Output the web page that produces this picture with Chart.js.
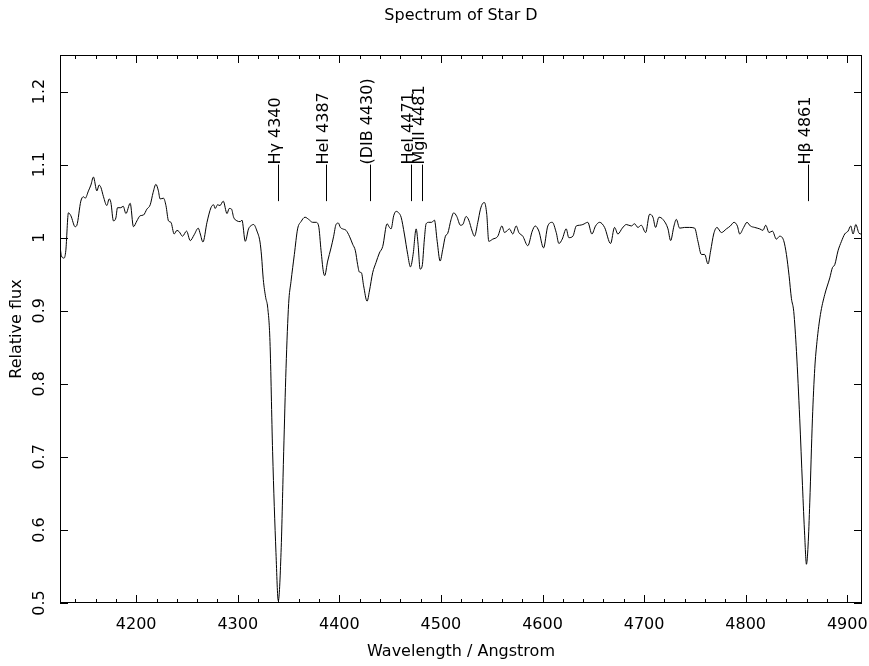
<!DOCTYPE html>
<html>
<head>
<meta charset="utf-8">
<script src="https://cdn.jsdelivr.net/npm/chart.js@4/dist/chart.umd.min.js"></script>
<style>
  html, body { margin: 0; padding: 0; background: #fff; }
  #wrap { width: 869px; height: 666px; }
</style>
</head>
<body>
<div id="wrap"><canvas id="spectrumChart" width="869" height="666"></canvas></div>
<script>
// wavelength (Angstrom) and relative flux
const wavelength = [
  4125.0, 4126.4, 4129.0, 4130.7, 4133.3, 4135.7, 4139.9, 4141.6, 4145.5, 4148.1,
  4149.8, 4153.0, 4155.4, 4157.9, 4161.3, 4163.5, 4165.2, 4167.8, 4171.1, 4173.4,
  4175.1, 4177.6, 4180.0, 4181.6, 4184.9, 4187.2, 4189.9, 4194.1, 4197.3, 4200.7,
  4203.9, 4207.2, 4210.5, 4213.8, 4216.7, 4219.4, 4221.7, 4223.6, 4226.9, 4229.3,
  4231.8, 4234.2, 4237.4, 4240.1, 4242.4, 4245.6, 4249.6, 4253.2, 4257.1, 4261.1,
  4263.1, 4265.7, 4269.7, 4273.6, 4276.2, 4277.8, 4280.1, 4282.5, 4285.7, 4289.4,
  4291.6, 4293.9, 4295.9, 4299.2, 4302.5, 4304.1, 4307.4, 4310.6, 4313.6, 4315.6,
  4318.9, 4321.9, 4323.4, 4325.1, 4327.5, 4329.4, 4331.7, 4334.3, 4337.6, 4339.9,
  4342.6, 4345.2, 4347.5, 4350.1, 4352.4, 4355.7, 4358.9, 4362.3, 4366.2, 4369.8,
  4373.7, 4377.0, 4379.6, 4382.0, 4384.2, 4385.5, 4388.5, 4391.8, 4394.4, 4396.7,
  4399.0, 4401.0, 4403.3, 4406.6, 4409.9, 4413.1, 4415.8, 4418.0, 4419.7, 4421.7,
  4423.9, 4427.3, 4429.6, 4432.8, 4436.1, 4439.4, 4442.7, 4447.0, 4449.3, 4450.9,
  4453.5, 4455.9, 4458.4, 4460.8, 4464.0, 4467.3, 4470.0, 4472.6, 4475.6, 4477.5,
  4479.5, 4481.5, 4483.7, 4485.4, 4488.0, 4490.9, 4493.6, 4496.3, 4499.2, 4501.8,
  4504.4, 4506.7, 4510.0, 4512.6, 4515.6, 4519.2, 4521.5, 4524.8, 4527.4, 4530.7,
  4533.0, 4536.3, 4538.9, 4541.2, 4542.9, 4545.1, 4547.1, 4551.0, 4556.0, 4560.0,
  4562.6, 4567.5, 4570.7, 4574.1, 4576.7, 4580.6, 4585.5, 4589.9, 4592.8, 4596.4,
  4601.0, 4605.2, 4609.6, 4613.5, 4616.1, 4619.4, 4623.3, 4625.9, 4629.9, 4633.2,
  4636.5, 4639.7, 4644.6, 4648.6, 4652.2, 4656.2, 4661.1, 4667.0, 4670.9, 4674.2,
  4678.5, 4682.5, 4687.4, 4690.6, 4693.9, 4697.2, 4701.5, 4705.4, 4708.7, 4711.3,
  4714.6, 4718.5, 4723.5, 4726.1, 4729.4, 4731.7, 4735.0, 4739.9, 4744.8, 4749.8,
  4753.0, 4756.4, 4759.6, 4762.9, 4765.5, 4768.5, 4771.7, 4776.1, 4781.0, 4784.9,
  4788.5, 4791.8, 4794.1, 4798.0, 4801.3, 4804.6, 4808.9, 4813.8, 4817.0, 4819.7,
  4823.0, 4826.3, 4830.2, 4833.5, 4837.4, 4840.1, 4842.7, 4845.0, 4847.3, 4850.0,
  4853.2, 4855.9, 4858.1, 4859.8, 4861.4, 4863.1, 4865.7, 4868.0, 4870.2, 4873.6,
  4877.8, 4882.8, 4885.4, 4887.7, 4890.9, 4894.3, 4897.5, 4900.8, 4903.4, 4905.7,
  4908.4, 4911.6, 4914.0
];
const flux = [
  0.989, 0.975, 0.972, 0.982, 1.034, 1.030, 1.015, 1.017, 1.050, 1.056,
  1.054, 1.064, 1.072, 1.083, 1.064, 1.072, 1.069, 1.056, 1.044, 1.053,
  1.048, 1.023, 1.027, 1.041, 1.041, 1.043, 1.033, 1.047, 1.015, 1.023,
  1.030, 1.031, 1.039, 1.045, 1.062, 1.073, 1.065, 1.053, 1.054, 1.044,
  1.023, 1.021, 1.005, 1.010, 1.008, 1.002, 1.009, 0.996, 1.004, 1.013,
  1.005, 0.994, 1.021, 1.041, 1.045, 1.040, 1.045, 1.044, 1.050, 1.033,
  1.040, 1.039, 1.028, 1.023, 1.022, 1.024, 0.995, 1.012, 1.017, 1.018,
  1.009, 0.994, 0.975, 0.943, 0.918, 0.905, 0.858, 0.707, 0.569, 0.503,
  0.569, 0.707, 0.821, 0.910, 0.940, 0.977, 1.012, 1.022, 1.028, 1.025,
  1.021, 1.021, 1.016, 0.982, 0.954, 0.948, 0.968, 0.986, 1.002, 1.018,
  1.020, 1.014, 1.012, 1.010, 1.002, 0.991, 0.982, 0.963, 0.953, 0.952,
  0.934, 0.913, 0.927, 0.952, 0.966, 0.979, 0.988, 1.019, 1.014, 1.012,
  1.030, 1.036, 1.034, 1.028, 1.005, 0.977, 0.960, 0.977, 1.012, 0.991,
  0.957, 0.961, 0.998, 1.019, 1.021, 1.021, 1.024, 0.995, 0.968, 0.984,
  1.002, 1.006, 1.025, 1.034, 1.029, 1.017, 1.018, 1.029, 1.024, 1.009,
  1.002, 1.021, 1.039, 1.047, 1.048, 1.032, 0.995, 0.998, 1.002, 1.016,
  1.007, 1.012, 1.005, 1.016, 1.007, 1.002, 0.989, 1.009, 1.016, 1.009,
  0.986, 1.016, 1.021, 1.007, 0.992, 0.998, 1.012, 1.000, 1.002, 1.016,
  1.017, 1.018, 1.021, 1.005, 1.016, 1.021, 1.014, 0.992, 1.014, 1.005,
  1.013, 1.018, 1.016, 1.019, 1.014, 1.017, 1.007, 1.032, 1.028, 1.014,
  1.028, 1.025, 1.012, 0.996, 1.016, 1.025, 1.013, 1.014, 1.014, 1.013,
  0.995, 0.977, 0.977, 0.964, 0.982, 1.005, 1.014, 1.007, 1.012, 1.016,
  1.021, 1.016, 1.005, 1.014, 1.021, 1.016, 1.014, 1.012, 1.010, 1.017,
  1.007, 1.009, 0.998, 1.002, 0.996, 0.977, 0.948, 0.917, 0.899, 0.844,
  0.752, 0.661, 0.592, 0.553, 0.578, 0.638, 0.752, 0.821, 0.858, 0.895,
  0.922, 0.945, 0.959, 0.963, 0.982, 0.995, 1.005, 1.009, 1.016, 1.005,
  1.018, 1.006, 1.005
];

// identified lines
const lineLabels = ["H\u03b3 4340", "HeI 4387", "(DIB 4430)", "HeI 4471", "MgII 4481", "H\u03b2 4861"];
const lineWaves = [4340, 4387, 4430, 4471, 4481, 4861];
const markBottom = 1.05;
const markTop = 1.10;

const xMin = 4125, xMax = 4914.5;
const yMin = 0.5, yMax = 1.25;
const xMajor = 100, xMinor = 20;
const yMajor = 0.1;

const FONT = "'DejaVu Sans', sans-serif";

// box + inward ticks on all four sides, and the line markers
const framePlugin = {
  id: "frame",
  afterDatasetsDraw(chart) {
    const { ctx, chartArea: a, scales } = chart;
    const x = scales.x, y = scales.y;
    ctx.save();
    ctx.strokeStyle = "#000";
    ctx.lineWidth = 1;
    ctx.strokeRect(a.left + 0.5, a.top + 0.5, a.right - a.left - 1, a.bottom - a.top - 1);

    ctx.beginPath();
    const start = Math.ceil(x.min / xMinor) * xMinor;
    for (let v = start; v <= x.max; v += xMinor) {
      const px = Math.round(x.getPixelForValue(v)) + 0.5;
      const len = v % xMajor === 0 ? 8 : 4;
      ctx.moveTo(px, a.bottom);
      ctx.lineTo(px, a.bottom - len);
      ctx.moveTo(px, a.top);
      ctx.lineTo(px, a.top + len);
    }
    y.ticks.forEach((t) => {
      const py = Math.round(y.getPixelForValue(t.value)) + 0.5;
      ctx.moveTo(a.left, py);
      ctx.lineTo(a.left + 8, py);
      ctx.moveTo(a.right, py);
      ctx.lineTo(a.right - 8, py);
    });
    ctx.stroke();

    // line identifications
    ctx.fillStyle = "#000";
    ctx.font = "16px " + FONT;
    ctx.textAlign = "left";
    ctx.textBaseline = "alphabetic";
    lineWaves.forEach((w, i) => {
      const px = Math.round(x.getPixelForValue(w)) + 0.5;
      const y0 = y.getPixelForValue(markBottom);
      const y1 = y.getPixelForValue(markTop);
      ctx.beginPath();
      ctx.moveTo(px, y0);
      ctx.lineTo(px, y1);
      ctx.stroke();
      ctx.save();
      ctx.translate(px + 1, y1);
      ctx.rotate(-Math.PI / 2);
      ctx.fillText(lineLabels[i], 0, 0);
      ctx.restore();
    });
    ctx.restore();
  },
};

const points = wavelength.map((w, i) => ({ x: w, y: flux[i] }));

let ctx = document.getElementById("spectrumChart").getContext("2d");

const config = {
  type: "line",
  data: {
    datasets: [
      {
        data: points,
        borderColor: "#000",
        borderWidth: 1,
        pointRadius: 0,
        fill: false,
        cubicInterpolationMode: "monotone",
      },
    ],
  },
  options: {
    responsive: false,
    animation: false,
    devicePixelRatio: 1,
    events: [],
    layout: {
      padding: { left: 0, right: 7, top: 0, bottom: 0 },
    },
    plugins: {
      legend: { display: false },
      tooltip: { enabled: false },
      title: {
        display: true,
        text: "Spectrum of Star D",
        fullSize: false,
        color: "#000",
        font: { family: FONT, size: 16, weight: "normal", lineHeight: 1.2 },
        padding: { top: 6, bottom: 29.8 },
      },
    },
    scales: {
      x: {
        type: "linear",
        min: xMin,
        max: xMax,
        grid: { display: false, drawTicks: false },
        border: { display: false },
        ticks: {
          stepSize: xMajor,
          includeBounds: false,
          autoSkip: false,
          maxRotation: 0,
          padding: 12,
          color: "#000",
          font: { family: FONT, size: 16 },
          callback: (v) => String(v),
        },
        title: {
          display: true,
          text: "Wavelength / Angstrom",
          color: "#000",
          font: { family: FONT, size: 16, lineHeight: 1.2 },
          padding: { top: 0, bottom: 5 },
        },
        afterFit: (scale) => {
          scale.height = 63;
          scale.paddingLeft = 0;
          scale.paddingRight = 0;
        },
      },
      y: {
        min: yMin,
        max: yMax,
        grid: { display: false, drawTicks: false },
        border: { display: false },
        ticks: {
          stepSize: yMajor,
          includeBounds: false,
          autoSkip: false,
          minRotation: 90,
          maxRotation: 90,
          crossAlign: "center",
          padding: 7,
          color: "#000",
          font: { family: FONT, size: 16 },
          callback: (v) => String(+v.toFixed(2)),
        },
        title: {
          display: true,
          text: "Relative flux",
          color: "#000",
          font: { family: FONT, size: 16, lineHeight: 1.2 },
          padding: { top: 7, bottom: 0 },
        },
        afterFit: (scale) => {
          scale.width = 60;
          scale.paddingTop = 0;
          scale.paddingBottom = 0;
        },
      },
    },
  },
  plugins: [framePlugin],
};

new Chart(ctx, config);
</script>
</body>
</html>
